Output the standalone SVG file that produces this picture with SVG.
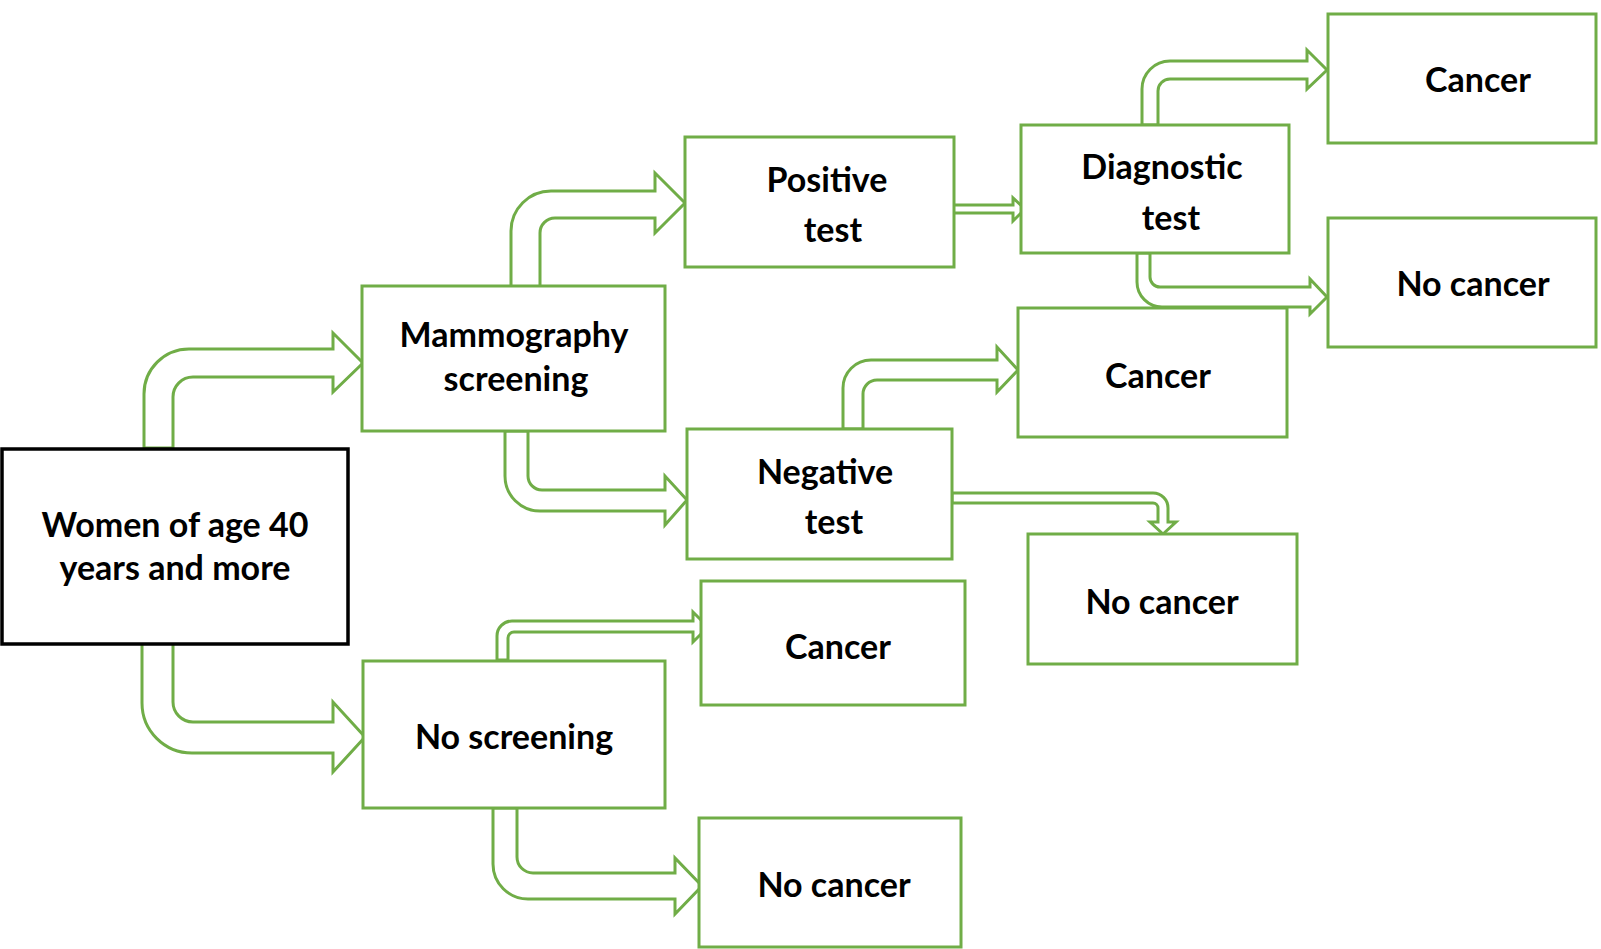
<svg xmlns="http://www.w3.org/2000/svg" width="1601" height="949" viewBox="0 0 1601 949">
<style>
.box{fill:#fff;stroke:#70AD47;stroke-width:3}
.start{fill:#fff;stroke:#000;stroke-width:3.5}
.arr{fill:#fff;stroke:#70AD47;stroke-width:3;stroke-linejoin:miter}
text{font-family:Lato,"Open Sans","Liberation Sans",sans-serif;font-weight:bold;font-size:34px;fill:#000;text-anchor:middle}
</style>
<rect width="1601" height="949" fill="#fff"/>
<g id="connectors">
<path class="arr" d="M144,448 L144,394 A45,45 0 0 1 189,349 L333,349 L333,333 L363,363 L333,392 L333,377 L193,377 A20,20 0 0 0 173,397 L173,448 Z"/>
<path class="arr" d="M142,643 L173,643 L173,702 A20,20 0 0 0 193,722 L333,722 L333,702 L365,737 L333,772 L333,753 L192,753 A50,50 0 0 1 142,703 Z"/>
<path class="arr" d="M511,287 L511,231 A40,40 0 0 1 551,191 L655,191 L655,173 L685,203 L655,233 L655,218 L555,218 A15,15 0 0 0 540,233 L540,287 Z"/>
<path class="arr" d="M505,431 L528,431 L528,476 A14,14 0 0 0 542,490 L665,490 L665,476 L687,500 L665,525 L665,511 L540,511 A35,35 0 0 1 505,476 Z"/>
<path class="arr" d="M953,205 L1013,205 L1013,198 L1025,209 L1013,221 L1013,213 L953,213 Z"/>
<path class="arr" d="M1142,125 L1142,89 A28,28 0 0 1 1170,61 L1307,61 L1307,50 L1327,70 L1307,89 L1307,79 L1170,79 A12,12 0 0 0 1158,91 L1158,125 Z"/>
<path class="arr" d="M1137,253 L1150,253 L1150,277 A10,10 0 0 0 1160,287 L1310,287 L1310,279 L1327,297 L1310,314 L1310,307 L1162,307 A25,25 0 0 1 1137,282 Z"/>
<path class="arr" d="M843,429 L843,388 A28,28 0 0 1 871,360 L997,360 L997,347 L1018,370 L997,392 L997,380 L877,380 A14,14 0 0 0 863,394 L863,429 Z"/>
<path class="arr" d="M952,493 L1153,493 A15,15 0 0 1 1168,508 L1168,522 L1176,522 L1163,534 L1150,522 L1158,522 L1158,508 A5,5 0 0 0 1153,503 L952,503 Z"/>
<path class="arr" d="M497,660 L497,636 A15,15 0 0 1 512,621 L693,621 L693,612 L708,627 L693,642 L693,632 L514,632 A6,6 0 0 0 508,638 L508,660 Z"/>
<path class="arr" d="M493,808 L517,808 L517,857 A16,16 0 0 0 533,873 L675,873 L675,858 L702,886 L675,914 L675,899 L528,899 A35,35 0 0 1 493,864 Z"/>
</g>
<g id="women"><rect class="start" x="2" y="449" width="346" height="195"/><text x="175" y="537">Women of age 40</text><text x="175" y="580">years and more</text></g>
<g id="mammography"><rect class="box" x="362" y="286" width="303" height="145"/><text x="514" y="347">Mammography</text><text x="516" y="391">screening</text></g>
<g id="positive"><rect class="box" x="685" y="137" width="269" height="130"/><text x="827" y="192">Positive</text><text x="833" y="242">test</text></g>
<g id="diagnostic"><rect class="box" x="1021" y="125" width="268" height="128"/><text x="1162" y="179">Diagnostic</text><text x="1171" y="230">test</text></g>
<g id="cancer1"><rect class="box" x="1328" y="14" width="268" height="129"/><text x="1478" y="92">Cancer</text></g>
<g id="nocancer1"><rect class="box" x="1328" y="218" width="268" height="129"/><text x="1473" y="296">No cancer</text></g>
<g id="negative"><rect class="box" x="687" y="429" width="265" height="130"/><text x="825" y="484">Negative</text><text x="834" y="534">test</text></g>
<g id="cancer2"><rect class="box" x="1018" y="308" width="269" height="129"/><text x="1158" y="388">Cancer</text></g>
<g id="nocancer2"><rect class="box" x="1028" y="534" width="269" height="130"/><text x="1162" y="614">No cancer</text></g>
<g id="noscreening"><rect class="box" x="363" y="661" width="302" height="147"/><text x="514" y="749">No screening</text></g>
<g id="cancer3"><rect class="box" x="701" y="581" width="264" height="124"/><text x="838" y="659">Cancer</text></g>
<g id="nocancer3"><rect class="box" x="699" y="818" width="262" height="129"/><text x="834" y="897">No cancer</text></g>
</svg>
